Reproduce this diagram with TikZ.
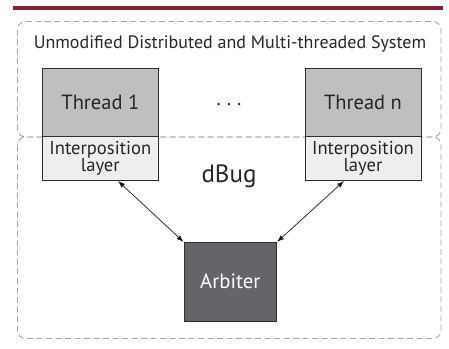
\documentclass[tikz,border=0pt]{standalone}
\usepackage{fontspec}
\setmainfont{PT Sans}
\usetikzlibrary{arrows.meta}
\definecolor{barred}{HTML}{8C1D32}
\definecolor{dashgray}{HTML}{A6A6A6}
\definecolor{threadfill}{HTML}{BEBFC1}
\definecolor{layerfill}{HTML}{EEEEEE}
\definecolor{arbfill}{HTML}{646569}
\definecolor{edge}{HTML}{2E2E2E}
\tikzset{
  region/.style={draw=dashgray, line width=0.9pt, dash pattern=on 6pt off 3.5pt, rounded corners=8pt},
  threadbox/.style={draw=edge, line width=0.8pt, fill=threadfill, minimum width=116pt, minimum height=68pt, inner sep=0pt, font=\fontsize{20.5}{22}\selectfont, text=black!85},
  layerbox/.style={draw=edge, line width=0.8pt, fill=layerfill, minimum width=116pt, minimum height=44.7pt, inner sep=0pt, align=center, font=\fontsize{18.6}{15.5}\selectfont, text=black!85},
  arbbox/.style={draw=edge, line width=0.8pt, fill=arbfill, minimum width=92.7pt, minimum height=78.7pt, inner sep=0pt, font=\fontsize{20.7}{24}\selectfont, text=white},
  link/.style={draw=black!90, line width=0.7pt, {Latex[length=7pt,width=5pt]}-{Latex[length=7pt,width=5pt]}},
}
\begin{document}
\begin{tikzpicture}[x=1pt,y=-1pt]
\useasboundingbox (0,0) rectangle (449,348);
\fill[barred] (13,6.2) rectangle (443,9.8);
\draw[region] (17.5,21.5) rectangle (441,137);
\draw[region] (17.5,137) rectangle (441,338.5);
\node[font=\fontsize{18}{20}\selectfont, text=black!85] (title) at (230,44) {Unmodified Distributed and Multi-threaded System};
\node[threadbox] (t1) at (100.3,102.2) {Thread 1};
\node[layerbox] (l1) at (100.3,158.4) {Interposition\\layer};
\node[threadbox] (tn) at (363,102.2) {Thread n};
\node[layerbox] (ln) at (363,158.4) {Interposition\\layer};
\node[font=\fontsize{20}{22}\selectfont, text=black!85, anchor=base, inner sep=0pt] (dots) at (229,105.5) {.\hspace{6pt}.\hspace{6pt}.};
\node[font=\fontsize{25}{28}\selectfont, text=black!85] (dbug) at (229,176) {dBug};
\node[arbbox] (arb) at (230.3,281.7) {Arbiter};
\coordinate (a1) at (118,181);
\coordinate (an) at (344,181);
\draw[link] (a1) -- (arb.north west);
\draw[link] (an) -- (arb.north east);
\end{tikzpicture}
\end{document}
